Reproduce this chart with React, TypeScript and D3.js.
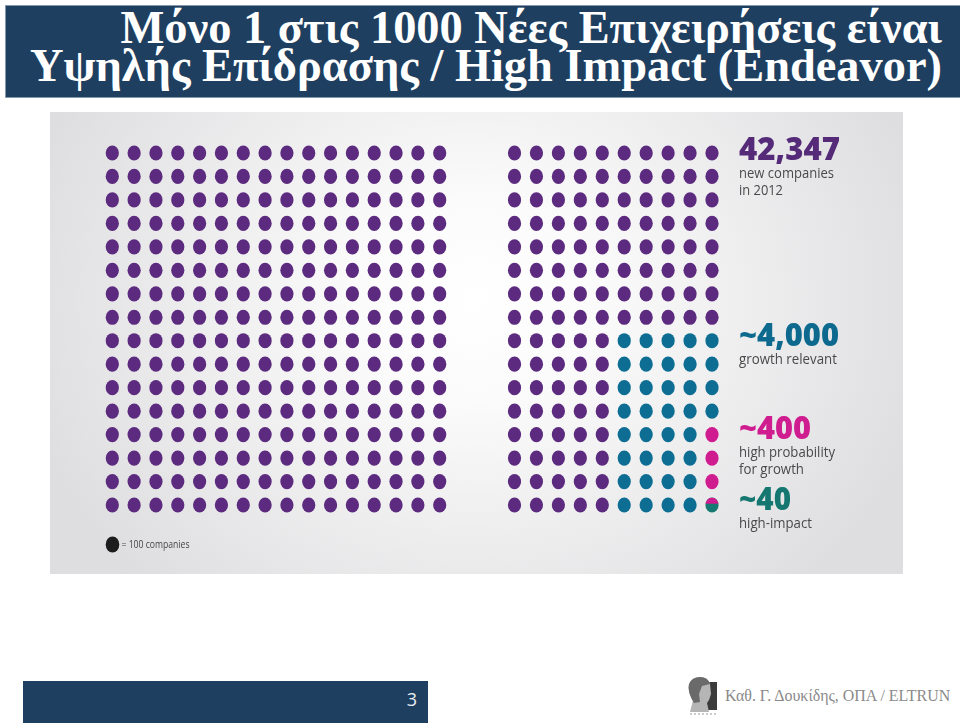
import React from "react";
import * as d3 from "d3";

const titleLines = ["Μόνο 1 στις 1000 Νέες Επιχειρήσεις είναι", "Υψηλής Επίδρασης / High Impact (Endeavor)"];
const leftColumns = d3.range(16);
const rightColumns = d3.range(10);
const rows = d3.range(16);
const tealFromColumn = 5;
const tealFromRow = 8;
const pinkColumn = 9;
const pinkRows = [12, 13, 14];
const mixedRow = 15;
const pinkShareOfMixedDot = 0.42;
const callouts = [
  { big: "42,347", bigColor: "#552b78", bigWidth: 101, lines: [{ t: "new companies", w: 95 }, { t: "in 2012", w: 44 }], y: 160 },
  { big: "~4,000", bigColor: "#0c6b8e", bigWidth: 100, lines: [{ t: "growth relevant", w: 98 }], y: 346 },
  { big: "~400", bigColor: "#cf1a8f", bigWidth: 72, lines: [{ t: "high probability", w: 96 }, { t: "for growth", w: 65 }], y: 439 },
  { big: "~40", bigColor: "#12776f", bigWidth: 52, lines: [{ t: "high-impact", w: 73 }], y: 510 },
];
const PURPLE = "#5b2a7e";
const TEAL = "#0b6d93";
const PINK = "#cf1a8f";
const GREEN = "#137a72";

export default function App() {
  const xLeft = d3.scalePoint<number>().domain(leftColumns).range([112.3, 439.7]);
  const xRight = d3.scalePoint<number>().domain(rightColumns).range([514.5, 712]);
  const y = d3.scalePoint<number>().domain(rows).range([153, 505]);
  const rx = 6.6, ry = 7.6;
  const colorOf = (c: number, r: number) => {
    if (c === pinkColumn && pinkRows.includes(r)) return PINK;
    if (c >= tealFromColumn && r >= tealFromRow) return TEAL;
    return PURPLE;
  };
  const mixedTop = y(mixedRow)! - ry;
  return (
    <svg width={960} height={723} style={{ position: "fixed", left: 0, top: 0, display: "block" }}>
      <defs>
        <radialGradient id="panelBg" gradientUnits="userSpaceOnUse" cx={0} cy={0} r={1} gradientTransform="translate(475 300) scale(470 400)">
          <stop offset="0" stopColor="#ffffff" />
          <stop offset="0.25" stopColor="#fbfbfb" />
          <stop offset="0.5" stopColor="#f1f1f2" />
          <stop offset="1" stopColor="#dedee0" />
        </radialGradient>
        <clipPath id="mixedPink">
          <rect x={690} y={mixedTop} width={44} height={2 * ry * pinkShareOfMixedDot} />
        </clipPath>
        <filter id="soft" x="-5%" y="-5%" width="110%" height="110%">
          <feGaussianBlur stdDeviation="0.45" />
        </filter>
        <filter id="softer" x="-10%" y="-10%" width="120%" height="120%">
          <feGaussianBlur stdDeviation="0.7" />
        </filter>
      </defs>
      <rect width={960} height={723} fill="#fff" />
      <rect x={5.5} y={5.5} width={955} height={92} fill="#1f3f60" stroke="#7d93a8" strokeWidth={0.6} />
      <g fontFamily="'Liberation Serif', serif" fontWeight="bold" fontSize={46.4} fill="#fff" textAnchor="end">
        <text x={942} y={42.5}>{titleLines[0]}</text>
        <text x={942} y={81}>{titleLines[1]}</text>
      </g>

      <rect x={50} y={112} width={853} height={462} fill="url(#panelBg)" />
      <g filter="url(#soft)">
        {leftColumns.flatMap(c => rows.map(r => (
          <ellipse key={`l${c}-${r}`} cx={xLeft(c)} cy={y(r)} rx={rx} ry={ry} fill={PURPLE} />
        )))}
        {rightColumns.flatMap(c => rows.map(r => {
          const mixed = c === pinkColumn && r === mixedRow;
          return (
            <ellipse key={`r${c}-${r}`} cx={xRight(c)} cy={y(r)} rx={rx} ry={ry} fill={mixed ? GREEN : colorOf(c, r)} />
          );
        }))}
        <ellipse cx={xRight(pinkColumn)} cy={y(mixedRow)} rx={rx} ry={ry} fill={PINK} clipPath="url(#mixedPink)" />
        <ellipse cx={112.5} cy={544.5} rx={6.8} ry={8} fill="#1d1d1f" />
        <text x={121.5} y={548} fontFamily="'Open Sans', sans-serif" fontSize={10} fill="#444" textLength={68} lengthAdjust="spacingAndGlyphs">= 100 companies</text>
        {callouts.map(c => (
          <g key={c.big}>
            <text x={739} y={c.y} fontFamily="'Open Sans', sans-serif" fontWeight={800} fontSize={31} fill={c.bigColor} textLength={c.bigWidth} lengthAdjust="spacingAndGlyphs">{c.big}</text>
            {c.lines.map((l, i) => (
              <text key={l.t} x={739} y={c.y + 17.5 + i * 17.5} fontFamily="'Open Sans', sans-serif" fontSize={15} fill="#4a4a4c" textLength={l.w} lengthAdjust="spacingAndGlyphs">{l.t}</text>
            ))}
          </g>
        ))}
      </g>

      <rect x={23} y={681} width={405} height={42} fill="#1f3f60" />
      <text x={412} y={706} textAnchor="middle" fontFamily="'Open Sans', sans-serif" fontSize={18} fill="#e8edf2">3</text>

      <g filter="url(#softer)">
        <rect x={707} y={682} width={10} height={28} fill="#3a3a3a" />
        <path d="M690 712 L693 700 Q687 690 689 684 Q692 677 700 677 Q708 677 710 684 L711 694 L709 700 L707 703 L709 712 Z" fill="#b5b5b5" />
        <path d="M689 684 Q692 677 700 677 Q708 677 710 684 L702 686 L699 694 L700 702 L694 703 Q687 692 689 684 Z" fill="#6a6a6a" />
        <path d="M690 714 L717 714" stroke="#999" strokeWidth={1} strokeDasharray="2 2" />
      </g>
      <text x={725} y={700.5} fontFamily="'Liberation Serif', serif" fontSize={15.95} fill="#8a8a8a">Καθ. Γ. Δουκίδης, ΟΠΑ / ELTRUN</text>
    </svg>
  );
}
